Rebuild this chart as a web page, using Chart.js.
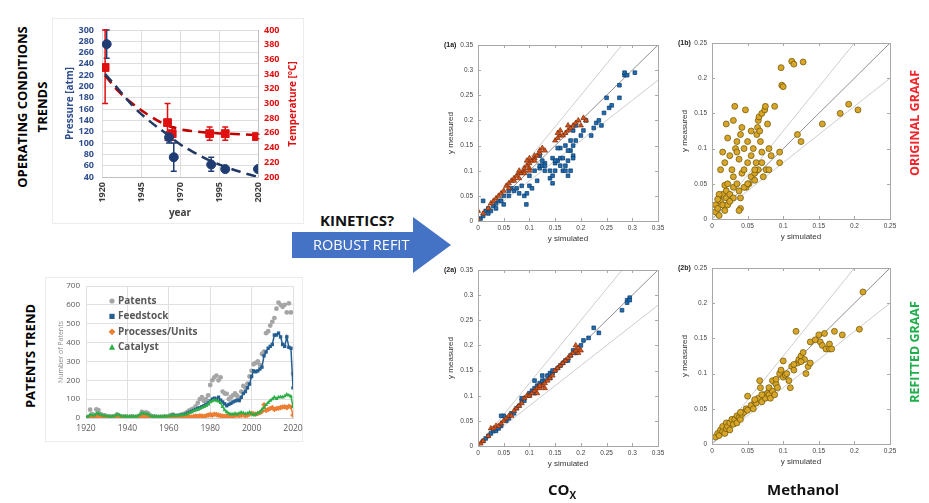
<!DOCTYPE html>
<html>
<head>
<meta charset="utf-8">
<script src="https://cdn.jsdelivr.net/npm/chart.js@4.4.1/dist/chart.umd.min.js"></script>
<style>
  html, body { margin: 0; background: #fff; }
  body { width: 929px; height: 503px; position: relative; overflow: hidden; font-family: "Open Sans", sans-serif; }
  canvas { position: absolute; }
  .lbl { position: absolute; white-space: nowrap; font-weight: bold; }
  .rot { transform: translate(-50%, -50%) rotate(-90deg); text-align: center; }
  .tag { position: absolute; font: bold 7px "Liberation Sans", sans-serif; color: #222; }
  .panel { position: absolute; border: 1px solid #ececec; }
</style>
</head>
<body>

<div class="panel" style="left:52px;top:18px;width:250px;height:204px"></div>
<div class="panel" style="left:45px;top:277px;width:256px;height:163px"></div>

<canvas id="cond" width="242" height="200" style="left:60px;top:22px"></canvas>
<canvas id="patents" width="256" height="160" style="left:48px;top:278px"></canvas>
<canvas id="p1a" width="240" height="210" style="left:430px;top:37px"></canvas>
<canvas id="p1b" width="238" height="210" style="left:664px;top:35px"></canvas>
<canvas id="p2a" width="240" height="210" style="left:430px;top:262px"></canvas>
<canvas id="p2b" width="238" height="210" style="left:664px;top:260px"></canvas>

<div class="lbl rot" style="left:292px;top:104px;font-size:10px;color:#e01010">Temperature [°C]</div>

<div class="lbl rot" style="left:32px;top:107px;font-size:13px;line-height:20px">OPERATING CONDITIONS<br>TRENDS</div>
<div class="lbl rot" style="left:30px;top:356px;font-size:13px">PATENTS TREND</div>
<div class="lbl rot" style="left:914px;top:123px;font-size:12.5px;color:#f2252b">ORIGINAL GRAAF</div>
<div class="lbl rot" style="left:914px;top:352px;font-size:12.5px;color:#1fae4b">REFITTED GRAAF</div>

<div class="lbl" style="left:320px;top:210px;font-size:15px;color:#111">KINETICS?</div>
<svg style="position:absolute;left:0;top:0" width="929" height="503">
  <polygon points="292,232 413,232 413,217 451,245 413,273 413,258 292,258" fill="#4472c4"/>
</svg>
<div class="lbl" style="left:313px;top:235px;font-size:14.5px;font-weight:normal;color:#fff">ROBUST REFIT</div>

<div class="lbl" style="left:548px;top:479px;font-size:15px;color:#111">CO<sub style="font-size:10px">X</sub></div>
<div class="lbl" style="left:767px;top:479px;font-size:15px;color:#111">Methanol</div>

<div class="tag" style="left:444px;top:41px">(1a)</div>
<div class="tag" style="left:678px;top:39px">(1b)</div>
<div class="tag" style="left:444px;top:266px">(2a)</div>
<div class="tag" style="left:678px;top:264px">(2b)</div>

<script>
// ---- operating conditions (pressure / temperature vs year)
const presYears = [1923, 1963, 1966, 1990, 1999, 2020];
const presVals  = [275, 110, 75, 62, 54, 54];
const presLo    = [250, 100, 50, 50, 54, 54];
const presHi    = [300, 120, 100, 75, 54, 54];
const tempYears = [1922, 1962, 1965, 1989, 1999, 2019];
const tempVals  = [349, 274, 259, 259, 259, 255];
const tempLo    = [300, 250, 250, 250, 250, 252];
const tempHi    = [400, 300, 268, 268, 268, 258];
const trendYears     = [1922, 1930, 1940, 1950, 1960, 1970, 1980, 1990, 2000, 2010, 2020];
const presTrendVals  = [222, 197, 165, 140, 119, 98, 82, 68, 57, 48, 40];
const tempTrendVals  = [338, 318, 299, 284, 272, 265, 262, 260, 259, 258, 257];

// ---- patents per year, 1920..2020
const patentYears = Array.from({length: 101}, (_, i) => 1920 + i);
const patentsAll = [2,5,44,20,15,45,42,20,15,14, 10,8,6,8,10,18,12,8,6,8, 6,5,8,6,5,8,12,32,26,30,
  25,14,10,8,6,5,6,5,8,6, 8,15,18,10,12,14,18,20,25,32, 40,45,50,62,80,100,110,90,100,120,
  175,200,215,225,200,215,140,130,128,100, 110,120,130,118,100,140,170,160,182,220,
  250,285,292,300,282,340,352,450,460,490, 510,530,580,612,600,590,600,560,608,560,235];
const feedstock = [0,2,5,5,4,8,10,6,4,3, 2,2,2,2,3,5,4,2,2,2, 2,2,2,2,2,3,4,8,8,6,
  5,3,2,2,2,2,2,2,2,3, 3,8,15,10,10,12,15,15,20,25, 30,35,40,45,50,55,60,65,72,80,
  90,100,105,100,110,95,85,75,65,72, 78,85,90,95,92,110,130,140,160,180,
  220,250,245,250,260,270,330,350,370,380, 390,440,440,450,430,390,380,430,375,370,160];
const processes = [0,0,2,2,2,4,4,2,2,2, 1,1,1,1,2,3,2,1,1,1, 1,1,1,1,1,2,3,6,6,5,
  4,2,1,1,1,1,1,1,1,2, 2,3,4,3,3,3,4,4,5,5, 6,5,8,10,8,12,10,8,12,15,
  18,15,20,18,15,12,10,8,10,12, 10,8,12,15,12,14,16,12,15,20,
  25,22,20,24,28,35,70,40,45,50, 55,45,50,52,55,58,60,55,62,58,15];
const catalyst = [4,8,18,14,14,24,26,18,14,12, 10,9,8,9,12,20,15,10,9,9, 8,8,9,8,8,10,18,26,24,22,
  20,12,9,8,8,8,8,8,9,9, 10,12,14,12,12,14,15,16,18,22, 28,32,38,42,45,50,55,60,65,72,
  85,90,95,92,88,80,60,42,32,24, 20,20,24,20,25,30,26,22,25,30,
  22,16,20,26,32,45,55,70,82,92, 100,110,102,110,112,110,116,125,120,115,60];

// ---- parity plots: [simulated, measured]
const refSlopes = [0.8, 1, 1.25];
const coxOrigCO = [[0.005,0.005],[0.01,0.01],[0.015,0.02],[0.02,0.015],[0.02,0.025],[0.025,0.02],[0.03,0.03],
  [0.035,0.025],[0.01,0.04],[0.035,0.035],[0.05,0.033],[0.04,0.04],[0.045,0.04],[0.05,0.05],[0.06,0.05],
  [0.06,0.06],[0.065,0.065],[0.07,0.06],[0.075,0.065],[0.08,0.055],[0.085,0.07],[0.09,0.05],[0.095,0.055],
  [0.094,0.033],[0.1,0.09],[0.1,0.07],[0.105,0.065],[0.11,0.1],[0.115,0.08],[0.12,0.105],[0.12,0.11],
  [0.125,0.11],[0.13,0.1],[0.13,0.115],[0.14,0.1],[0.14,0.085],[0.145,0.075],[0.145,0.09],[0.15,0.115],
  [0.15,0.1],[0.155,0.12],[0.16,0.125],[0.16,0.11],[0.165,0.1],[0.165,0.125],[0.17,0.11],[0.17,0.1],
  [0.175,0.09],[0.175,0.12],[0.18,0.1],[0.18,0.14],[0.185,0.13],[0.185,0.15],[0.16,0.145],[0.155,0.145],
  [0.17,0.15],[0.175,0.14],[0.18,0.16],[0.185,0.125],[0.19,0.19],[0.19,0.16],[0.2,0.17],[0.205,0.18],
  [0.21,0.2],[0.22,0.17],[0.225,0.185],[0.23,0.195],[0.235,0.2],[0.24,0.19],[0.245,0.215],[0.25,0.245],
  [0.255,0.225],[0.26,0.23],[0.275,0.245],[0.275,0.27],[0.285,0.29],[0.285,0.295],[0.29,0.29],
  [0.305,0.295],[0.12,0.13],[0.125,0.12],[0.13,0.11],[0.145,0.125],[0.15,0.12],[0.185,0.18]];
const coxOrigCO2 = [[0,0.005],[0,0.02],[0.01,0.015],[0.02,0.025],[0.025,0.035],[0.03,0.04],[0.035,0.045],
  [0.04,0.05],[0.045,0.055],[0.05,0.06],[0.055,0.07],[0.06,0.065],[0.06,0.075],[0.065,0.08],[0.07,0.08],
  [0.07,0.085],[0.075,0.09],[0.08,0.085],[0.08,0.095],[0.085,0.095],[0.09,0.1],[0.09,0.105],[0.095,0.11],
  [0.1,0.115],[0.1,0.105],[0.105,0.12],[0.11,0.125],[0.11,0.13],[0.115,0.13],[0.12,0.135],[0.12,0.14],
  [0.125,0.145],[0.13,0.14],[0.15,0.16],[0.155,0.165],[0.16,0.17],[0.165,0.17],[0.17,0.175],[0.175,0.18],
  [0.18,0.185],[0.185,0.19],[0.19,0.195],[0.195,0.2],[0.155,0.175],[0.16,0.18],[0.175,0.19],[0.2,0.19],
  [0.205,0.205],[0.21,0.2],[0.08,0.1],[0.09,0.095],[0.1,0.1],[0.11,0.12],[0.1,0.125],[0.095,0.12]];
const coxRefitCO = [[0.01,0.01],[0.015,0.015],[0.02,0.02],[0.025,0.025],[0.03,0.03],[0.035,0.03],[0.04,0.035],
  [0.045,0.04],[0.05,0.06],[0.055,0.05],[0.06,0.055],[0.065,0.065],[0.07,0.065],[0.075,0.075],[0.08,0.08],
  [0.085,0.09],[0.09,0.09],[0.1,0.105],[0.1,0.1],[0.105,0.11],[0.11,0.115],[0.11,0.105],[0.115,0.12],
  [0.12,0.12],[0.12,0.125],[0.125,0.13],[0.13,0.13],[0.135,0.14],[0.14,0.145],[0.145,0.145],[0.15,0.15],
  [0.155,0.155],[0.16,0.16],[0.165,0.165],[0.17,0.17],[0.175,0.17],[0.18,0.18],[0.185,0.19],[0.19,0.185],
  [0.2,0.2],[0.205,0.21],[0.215,0.215],[0.225,0.235],[0.235,0.225],[0.28,0.27],[0.29,0.29],[0.295,0.295],
  [0.29,0.285],[0.295,0.29],[0.085,0.095],[0.045,0.06],[0.11,0.13],[0.125,0.14],[0.145,0.15],[0.14,0.135]];
const coxRefitCO2 = [[0,0.005],[0.005,0.005],[0.01,0.01],[0.02,0.02],[0.025,0.035],[0.03,0.035],[0.035,0.04],
  [0.04,0.04],[0.045,0.045],[0.05,0.05],[0.055,0.055],[0.06,0.06],[0.065,0.06],[0.07,0.07],[0.075,0.075],
  [0.08,0.08],[0.085,0.085],[0.09,0.095],[0.095,0.1],[0.1,0.1],[0.105,0.105],[0.11,0.11],[0.115,0.115],
  [0.12,0.115],[0.125,0.12],[0.13,0.125],[0.135,0.13],[0.14,0.135],[0.145,0.14],[0.15,0.15],[0.155,0.155],
  [0.16,0.16],[0.165,0.165],[0.17,0.17],[0.175,0.175],[0.18,0.18],[0.185,0.185],[0.19,0.19],[0.195,0.195],
  [0.19,0.2],[0.195,0.185],[0.2,0.19],[0.12,0.12],[0.13,0.115],[0.115,0.105]];
const methOrig = [[0.005,0.01],[0.005,0.02],[0.008,0.015],[0.01,0.03],[0.01,0.005],[0.012,0.025],[0.015,0.02],
  [0.015,0.035],[0.018,0.012],[0.02,0.03],[0.02,0.04],[0.022,0.02],[0.025,0.035],[0.012,0.07],[0.015,0.095],
  [0.018,0.08],[0.02,0.135],[0.022,0.115],[0.025,0.09],[0.028,0.07],[0.03,0.14],[0.03,0.045],[0.03,0.06],
  [0.032,0.16],[0.033,0.1],[0.035,0.11],[0.035,0.095],[0.035,0.05],[0.038,0.085],[0.038,0.04],[0.04,0.03],
  [0.04,0.015],[0.038,0.012],[0.042,0.065],[0.04,0.12],[0.042,0.13],[0.045,0.1],[0.045,0.07],[0.047,0.155],
  [0.048,0.045],[0.05,0.08],[0.05,0.11],[0.052,0.05],[0.055,0.125],[0.055,0.06],[0.055,0.09],[0.058,0.1],
  [0.06,0.055],[0.06,0.065],[0.062,0.08],[0.063,0.12],[0.064,0.13],[0.065,0.14],[0.066,0.145],[0.067,0.125],
  [0.068,0.11],[0.07,0.15],[0.07,0.095],[0.07,0.08],[0.072,0.06],[0.074,0.155],[0.075,0.16],[0.076,0.07],
  [0.078,0.135],[0.08,0.1],[0.08,0.07],[0.083,0.09],[0.088,0.16],[0.095,0.095],[0.095,0.08],[0.097,0.215],
  [0.098,0.19],[0.1,0.188],[0.112,0.224],[0.115,0.22],[0.128,0.223],[0.12,0.12],[0.125,0.11],[0.155,0.135],
  [0.18,0.15],[0.192,0.163],[0.205,0.155],[0.045,0.045],[0.05,0.05],[0.03,0.03],[0.025,0.025],[0.065,0.07],
  [0.06,0.07],[0.01,0.035],[0.008,0.028],[0.018,0.048],[0.022,0.05]];
const methRefit = [[0.005,0.01],[0.008,0.015],[0.01,0.012],[0.012,0.02],[0.015,0.018],[0.015,0.025],[0.018,0.015],
  [0.02,0.022],[0.02,0.03],[0.022,0.025],[0.025,0.03],[0.025,0.02],[0.028,0.035],[0.03,0.028],[0.032,0.035],
  [0.035,0.04],[0.035,0.03],[0.038,0.038],[0.04,0.035],[0.042,0.042],[0.045,0.045],[0.048,0.05],[0.05,0.068],
  [0.05,0.048],[0.055,0.055],[0.058,0.05],[0.06,0.06],[0.062,0.058],[0.065,0.065],[0.067,0.09],[0.068,0.08],
  [0.07,0.06],[0.072,0.07],[0.075,0.065],[0.078,0.072],[0.08,0.08],[0.08,0.07],[0.082,0.065],[0.085,0.09],
  [0.085,0.075],[0.088,0.07],[0.09,0.085],[0.092,0.08],[0.095,0.1],[0.097,0.105],[0.1,0.118],[0.1,0.095],
  [0.103,0.098],[0.105,0.1],[0.108,0.09],[0.11,0.08],[0.112,0.11],[0.115,0.105],[0.118,0.16],[0.12,0.115],
  [0.122,0.12],[0.125,0.125],[0.128,0.13],[0.13,0.12],[0.132,0.1],[0.135,0.11],[0.138,0.145],[0.138,0.115],
  [0.15,0.155],[0.152,0.145],[0.155,0.14],[0.158,0.157],[0.16,0.135],[0.165,0.135],[0.165,0.142],[0.168,0.135],
  [0.172,0.16],[0.183,0.155],[0.207,0.163],[0.212,0.216],[0.125,0.117],[0.09,0.092],[0.06,0.063],[0.04,0.045],
  [0.07,0.07],[0.115,0.113],[0.145,0.148]];

Chart.defaults.font.family = '"Open Sans", sans-serif';
Chart.defaults.animation = false;

const navy = '#2f4f8f';
const red = '#e01010';

// vertical error bars, drawn under the markers
const errorBars = {
  id: 'errorBars',
  beforeDatasetsDraw(chart) {
    const ctx = chart.ctx;
    chart.data.datasets.forEach((ds, i) => {
      if (!ds.errLo) return;
      const xs = chart.scales.x, ys = chart.scales[ds.yAxisID];
      ctx.save();
      ctx.strokeStyle = ds.borderColor;
      ctx.lineWidth = 1.5;
      ds.data.forEach((p, j) => {
        if (ds.errLo[j] === ds.errHi[j]) return;
        const x = xs.getPixelForValue(p.x);
        const lo = ys.getPixelForValue(ds.errLo[j]);
        const hi = ys.getPixelForValue(ds.errHi[j]);
        ctx.beginPath();
        ctx.moveTo(x, lo); ctx.lineTo(x, hi);
        ctx.moveTo(x - 3, lo); ctx.lineTo(x + 3, lo);
        ctx.moveTo(x - 3, hi); ctx.lineTo(x + 3, hi);
        ctx.stroke();
      });
      ctx.restore();
    });
  }
};

function noOverhang(s) {
  s.paddingLeft = 0; s.paddingRight = 0; s.paddingTop = 0; s.paddingBottom = 0;
}

new Chart(document.getElementById('cond'), {
  type: 'scatter',
  data: {
    datasets: [
      { label: 'Pressure', yAxisID: 'y', data: presYears.map((x, i) => ({x, y: presVals[i]})),
        errLo: presLo, errHi: presHi, pointStyle: 'circle', pointRadius: 4.5,
        backgroundColor: '#1f3c73', borderColor: '#1f3c73', order: 0 },
      { label: 'Temperature', yAxisID: 'y2', data: tempYears.map((x, i) => ({x, y: tempVals[i]})),
        errLo: tempLo, errHi: tempHi, pointStyle: 'rect', pointRadius: 5.5,
        backgroundColor: red, borderColor: red, order: 0 },
      { label: 'Pressure trend', yAxisID: 'y', data: trendYears.map((x, i) => ({x, y: presTrendVals[i]})),
        showLine: true, tension: 0.4, borderDash: [10, 6], borderWidth: 2.5, pointRadius: 0,
        borderColor: '#1f3864', order: 1 },
      { label: 'Temperature trend', yAxisID: 'y2', data: trendYears.map((x, i) => ({x, y: tempTrendVals[i]})),
        showLine: true, tension: 0.4, borderDash: [10, 6], borderWidth: 2.5, pointRadius: 0,
        borderColor: '#c00000', order: 1 }
    ]
  },
  options: {
    responsive: false,
    layout: { padding: { left: 4, right: 4, top: 8, bottom: 3 } },
    plugins: { legend: { display: false }, tooltip: { enabled: false } },
    scales: {
      x: {
        type: 'linear', min: 1920, max: 2020,
        ticks: { stepSize: 25, minRotation: 90, maxRotation: 90, padding: 5, color: '#404040', autoSkip: false,
                 font: { size: 9, weight: 'bold' }, callback: v => String(v) },
        grid: { color: '#dedede', drawTicks: false },
        border: { color: '#bfbfbf' },
        title: { display: true, text: 'year', color: '#404040', font: { size: 10, weight: 'bold' }, padding: 0 },
        afterFit: s => { s.height = 42; noOverhang(s); }
      },
      y: {
        min: 40, max: 300,
        ticks: { stepSize: 20, padding: 8, color: navy, autoSkip: false, font: { size: 9, weight: 'bold' } },
        grid: { color: '#dedede', drawTicks: false },
        border: { display: false },
        title: { display: true, text: 'Pressure [atm]', color: navy, font: { size: 10, weight: 'bold' }, padding: 0 },
        afterFit: s => { s.width = 38; noOverhang(s); }
      },
      y2: {
        position: 'right', min: 200, max: 400,
        ticks: { stepSize: 20, padding: 6, color: red, autoSkip: false, font: { size: 9, weight: 'bold' } },
        grid: { drawOnChartArea: false, drawTicks: false },
        border: { color: '#bfbfbf' },
        afterFit: s => { s.width = 40; noOverhang(s); }
      }
    }
  },
  plugins: [errorBars]
});

// hand-drawn marker shapes for the inside legend
function drawMarker(ctx, style, x, y, r) {
  ctx.beginPath();
  if (style === 'circle') ctx.arc(x, y, r, 0, Math.PI * 2);
  else if (style === 'rect') ctx.rect(x - r, y - r, 2 * r, 2 * r);
  else if (style === 'rectRot') { ctx.moveTo(x, y - r * 1.3); ctx.lineTo(x + r * 1.3, y); ctx.lineTo(x, y + r * 1.3); ctx.lineTo(x - r * 1.3, y); ctx.closePath(); }
  else { ctx.moveTo(x, y - r * 1.2); ctx.lineTo(x + r * 1.2, y + r); ctx.lineTo(x - r * 1.2, y + r); ctx.closePath(); }
  ctx.fill();
}

const insideLegend = {
  id: 'insideLegend',
  afterDraw(chart) {
    const ctx = chart.ctx, a = chart.chartArea;
    ctx.save();
    ctx.font = 'bold 10px "Open Sans", sans-serif';
    ctx.textBaseline = 'middle';
    chart.data.datasets.forEach((ds, i) => {
      const x = a.left + 26, y = a.top + 15 + i * 15.4;
      ctx.fillStyle = ds.backgroundColor;
      drawMarker(ctx, ds.pointStyle, x, y, 2.6);
      ctx.fillStyle = '#595959';
      ctx.fillText(ds.label, x + 6, y);
    });
    ctx.restore();
  }
};

const seriesStyle = [
  { label: 'Patents', vals: patentsAll, style: 'circle', color: '#a5a5a5', line: false, order: 3 },
  { label: 'Feedstock', vals: feedstock, style: 'rect', color: '#255e91', line: true, order: 2 },
  { label: 'Processes/Units', vals: processes, style: 'rectRot', color: '#ed7d31', line: true, order: 1 },
  { label: 'Catalyst', vals: catalyst, style: 'triangle', color: '#2fae48', line: true, order: 0 }
];

new Chart(document.getElementById('patents'), {
  type: 'scatter',
  data: {
    datasets: seriesStyle.map(s => ({
      label: s.label,
      data: patentYears.map((x, i) => ({x, y: s.vals[i]})),
      showLine: s.line, borderWidth: 1.5, borderColor: s.color, backgroundColor: s.color,
      pointStyle: s.style, pointRadius: s.style === 'rectRot' ? 2.8 : 2.4, pointBorderWidth: 0,
      order: s.order
    }))
  },
  options: {
    responsive: false,
    layout: { padding: { left: 9, right: 11, top: 8, bottom: 2 } },
    plugins: { legend: { display: false }, tooltip: { enabled: false } },
    scales: {
      x: {
        type: 'linear', min: 1920, max: 2020,
        ticks: { stepSize: 20, padding: 5, color: '#595959', font: { size: 8.5 }, callback: v => String(v), maxRotation: 0 },
        grid: { color: '#e0e0e0', drawTicks: false },
        border: { color: '#d0d0d0' },
        afterFit: s => { s.height = 18; noOverhang(s); }
      },
      y: {
        min: 0, max: 700,
        ticks: { stepSize: 100, padding: 6, color: '#595959', font: { size: 8 } },
        grid: { color: '#e0e0e0', drawTicks: false },
        border: { display: false },
        title: { display: true, text: 'Number of Patents', color: '#8a8a8a', font: { size: 7 }, padding: 0 },
        afterFit: s => { s.width = 29; noOverhang(s); }
      }
    }
  },
  plugins: [insideLegend]
});

// MATLAB-like box with inward ticks
const matBox = {
  id: 'matBox',
  afterDraw(chart) {
    const ctx = chart.ctx, a = chart.chartArea, sx = chart.scales.x, sy = chart.scales.y;
    ctx.save();
    ctx.strokeStyle = '#a8a8a8';
    ctx.lineWidth = 1;
    ctx.strokeRect(Math.round(a.left) + 0.5, Math.round(a.top) + 0.5, Math.round(a.width), Math.round(a.height));
    ctx.beginPath();
    sx.ticks.forEach(t => {
      const x = Math.round(sx.getPixelForValue(t.value)) + 0.5;
      ctx.moveTo(x, a.bottom); ctx.lineTo(x, a.bottom - 3);
      ctx.moveTo(x, a.top); ctx.lineTo(x, a.top + 3);
    });
    sy.ticks.forEach(t => {
      const y = Math.round(sy.getPixelForValue(t.value)) + 0.5;
      ctx.moveTo(a.left, y); ctx.lineTo(a.left + 3, y);
      ctx.moveTo(a.right, y); ctx.lineTo(a.right - 3, y);
    });
    ctx.stroke();
    ctx.restore();
  }
};

function parity(id, max, series) {
  const refLines = refSlopes.map(s => {
    const endX = Math.min(max, max / s);
    return {
      data: [{x: 0, y: 0}, {x: endX, y: s * endX}],
      showLine: true, pointRadius: 0, borderWidth: 1,
      borderColor: s === 1 ? '#8f8f8f' : '#cdcdcd', order: 10
    };
  });
  const pts = series.map((s, k) => ({
    data: s.pts.map(p => ({x: p[0], y: p[1]})),
    pointStyle: s.style, pointRadius: s.radius, backgroundColor: s.fill,
    borderColor: s.edge, pointBorderWidth: 0.7, showLine: false, order: series.length - k
  }));
  const fmt = v => String(+v.toFixed(2));
  const tickFont = { size: 6.5, family: '"Liberation Sans", sans-serif' };
  new Chart(document.getElementById(id), {
    type: 'scatter',
    data: { datasets: [...refLines, ...pts] },
    options: {
      responsive: false,
      layout: { padding: { left: 15, right: 12, top: 8, bottom: 2 } },
      plugins: { legend: { display: false }, tooltip: { enabled: false } },
      scales: {
        x: {
          min: 0, max: max,
          ticks: { stepSize: 0.05, padding: 3, color: '#444', maxRotation: 0, autoSkip: false,
                   font: tickFont, callback: fmt },
          grid: { display: false, drawTicks: false }, border: { display: false },
          title: { display: true, text: 'y simulated', color: '#333', padding: 1,
                   font: { size: 8, family: '"Liberation Sans", sans-serif' } },
          afterFit: s => { s.height = 24; noOverhang(s); }
        },
        y: {
          min: 0, max: max,
          ticks: { stepSize: 0.05, padding: 5, color: '#444', autoSkip: false,
                   font: tickFont, callback: fmt },
          grid: { display: false, drawTicks: false }, border: { display: false },
          title: { display: true, text: 'y measured', color: '#333', padding: 1,
                   font: { size: 8, family: '"Liberation Sans", sans-serif' } },
          afterFit: s => { s.width = 33; noOverhang(s); }
        }
      }
    },
    plugins: [matBox]
  });
}

const coStyle  = { style: 'rect', radius: 2.6, fill: '#1f6db3', edge: '#0b3a66' };
const co2Style = { style: 'triangle', radius: 3, fill: '#d95319', edge: '#7a2e0b' };
const mStyle   = { style: 'circle', radius: 3, fill: '#d6a52a', edge: '#6b5200' };

parity('p1a', 0.35, [{ ...coStyle, pts: coxOrigCO }, { ...co2Style, pts: coxOrigCO2 }]);
parity('p1b', 0.25, [{ ...mStyle, pts: methOrig }]);
parity('p2a', 0.35, [{ ...coStyle, pts: coxRefitCO }, { ...co2Style, pts: coxRefitCO2 }]);
parity('p2b', 0.25, [{ ...mStyle, pts: methRefit }]);
</script>
</body>
</html>
